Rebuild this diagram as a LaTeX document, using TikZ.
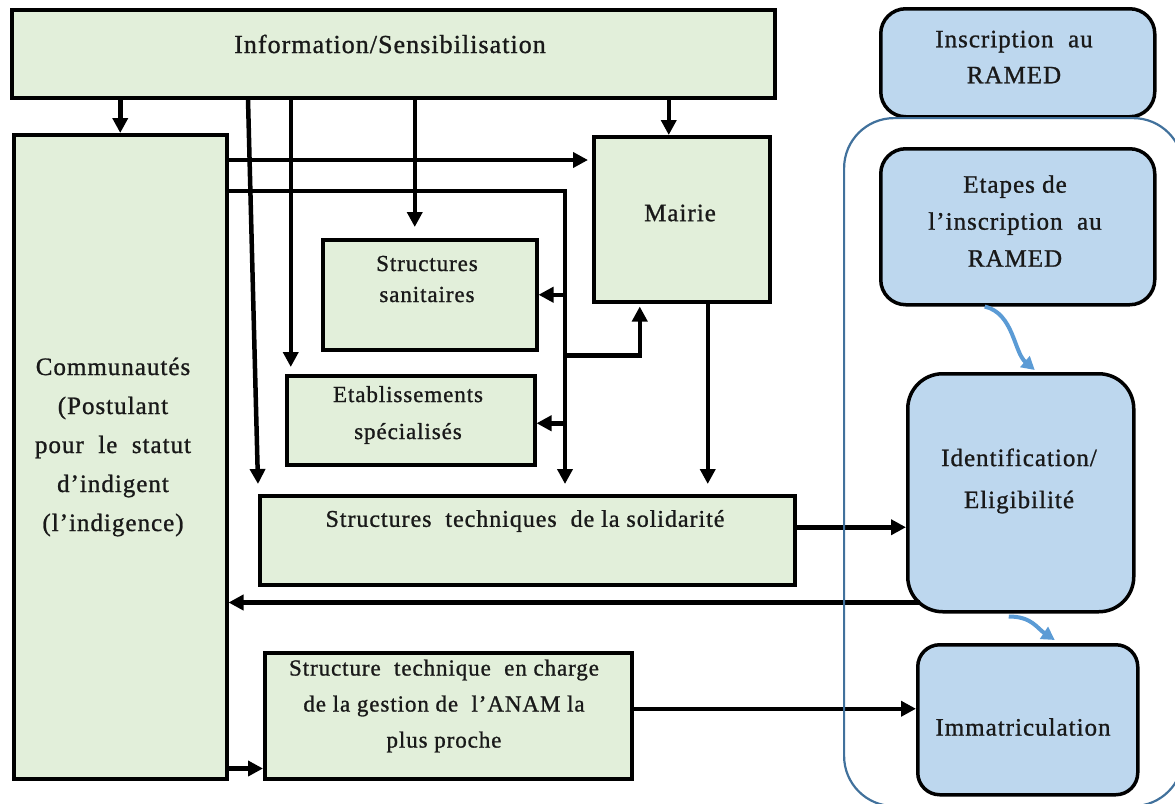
\documentclass[tikz,border=0pt]{standalone}
\usepackage{fontspec}
\setmainfont{Liberation Serif}[LetterSpace=4,FakeBold=1]
\usetikzlibrary{arrows.meta,calc}
\definecolor{boxgreen}{HTML}{E2EFDA}
\definecolor{boxblue}{HTML}{BDD7EE}
\definecolor{frameblue}{HTML}{41719C}
\definecolor{flowblue}{HTML}{5B9BD5}
\begin{document}
\begin{tikzpicture}[x=1pt,y=-1pt,
  gbox/.style={draw=black, line width=3.5pt, fill=boxgreen, anchor=north west, inner sep=0pt},
  bbox/.style={draw=black, line width=3.5pt, fill=boxblue, rounded corners=25pt, anchor=north west, inner sep=0pt},
  lbl/.style={inner sep=0pt, align=center, text=black!90, font=\fontsize{25}{37}\selectfont},
  arr/.style={line width=4.5pt, -{Triangle[length=15pt,width=15pt]}},
  flow/.style={draw=flowblue, line width=4pt, -{Triangle[length=13pt,width=14pt]}},
  frame/.style={draw=frameblue, line width=2.2pt, rounded corners=50pt, anchor=north west, inner sep=0pt}
]
\useasboundingbox (0,0) rectangle (1175,803);

% actors (green boxes)
\node[gbox, minimum width=763, minimum height=88]  (info)   at (10,8)    {};
\node[gbox, minimum width=213, minimum height=644] (comm)   at (12,133)  {};
\node[gbox, minimum width=176, minimum height=165] (mairie) at (592,135) {};
\node[gbox, minimum width=214, minimum height=110] (san)    at (321,238) {};
\node[gbox, minimum width=248, minimum height=89]  (etab)   at (285,374) {};
\node[gbox, minimum width=535, minimum height=89]  (sol)    at (258,494) {};
\node[gbox, minimum width=367, minimum height=126] (fanam)  at (263,651) {};

% their texts
\node[lbl, font=\fontsize{26}{37}\selectfont] (t-info) at (390,44) {Information/Sensibilisation};
\node[lbl, font=\fontsize{25}{39}\selectfont] (t-comm) at (113,447)
  {Communautés\\(Postulant\\pour~~le~~statut\\d'indigent\\(l'indigence)};
\node[lbl] (t-mairie) at (680,213) {Mairie};
\node[lbl, font=\fontsize{23}{31}\selectfont] (t-san) at (427,279) {Structures\\sanitaires};
\node[lbl, font=\fontsize{23}{37}\selectfont] (t-etab) at (408,415) {Etablissements\\spécialisés};
\node[lbl, font=\fontsize{24}{36}\selectfont] (t-sol) at (525,521) {Structures~~techniques~~de la solidarité};
\node[lbl, font=\fontsize{23}{36}\selectfont] (t-fanam) at (444,706)
  {Structure~~technique~~en charge\\de la gestion de~~l'ANAM la\\plus proche};

% drops from Information/Sensibilisation
\coordinate (dropM) at ($(mairie.north)+(-13,0)$);
\coordinate (dropS) at ($(san.north)+(-15,-11)$);
\coordinate (dropE) at ($(etab.north)+(-120,-7)$);
\coordinate (dropT) at ($(sol.north west)+(0,-10)$);
\coordinate (topT)  at ($(info.south west)+(238,0)$);
\draw[arr] (info.south -| comm.north) -- (comm.north);
\draw[arr] (info.south -| dropM) -- (dropM);
\draw[arr] (info.south -| dropS) -- (dropS);
\draw[arr] (info.south -| dropE) -- (dropE);
\draw[arr] (topT) -- (dropT);

% Communautés towards the Mairie and the local structures
\coordinate (c1) at ($(comm.north east)+(0,27)$);
\draw[arr, shorten >=4pt] (c1) -- (c1 -| mairie.west);
\coordinate (c2)  at ($(comm.north east)+(0,58)$);
\coordinate (bus) at ($(sol.north west)+(307,-10)$);
\draw[arr] (c2) -| (bus);
\draw[arr] (san.east -| bus) -- (san.east);
\draw[arr] ($(etab.east -| bus)+(0,3)$) -- ($(etab.east)+(0,3)$);
\coordinate (upM) at ($(mairie.south)+(-42,3)$);
\draw[arr] ($(bus |- san.south)+(0,4)$) -| (upM);

% Mairie to the solidarity structures
\coordinate (m2) at ($(mairie.south)+(26,0)$);
\draw[arr] (m2) -- ($(m2 |- sol.north)+(0,-10)$);

% bottom-left link
\coordinate (c3) at ($(comm.south east)+(0,-12)$);
\draw[arr] (c3) -- (c3 -| fanam.west);

% RAMED registration steps (blue)
\node[bbox, minimum width=274, minimum height=108] (insc)   at (879,7)   {};
\node[bbox, minimum width=274, minimum height=156] (etapes) at (879,147) {};
\node[bbox, rounded corners=35pt, minimum width=226, minimum height=238] (ident) at (906,372) {};
\node[bbox, rounded corners=22pt, minimum width=220, minimum height=150] (immat) at (916,643) {};

\coordinate (s1) at ($(sol.east)+(0,-13)$);
\draw[arr] (s1) -- (s1 -| ident.west);
\coordinate (i1) at ($(ident.south west)+(14,-11)$);
\draw[arr] (i1) -- (i1 -| comm.east);
\coordinate (f1) at ($(fanam.east)+(0,-7)$);
\draw[arr] (f1) -- (f1 -| immat.west);

% frame grouping the registration steps
\begin{scope}
  \clip (0,0) rectangle (1175,803);
  \node[frame, minimum width=339, minimum height=688] (steps) at (843,117) {};
\end{scope}

\node[lbl, font=\fontsize{25}{36}\selectfont] (t-insc) at (1014,57) {Inscription~~au\\RAMED};
\node[lbl, font=\fontsize{25}{37}\selectfont] (t-etapes) at (1015,221) {Etapes de\\l'inscription~~au\\RAMED};
\node[lbl, font=\fontsize{25}{42}\selectfont] (t-ident) at (1019,481) {Identification/\\Eligibilité};
\node[lbl] (t-immat) at (1023,727) {Immatriculation};

\draw[flow] ($(etapes.south)+(-33,0)$) .. controls +(29,7) and +(-21,-18) .. ($(ident.north)+(14,-2)$);
\draw[flow] ($(ident.south)+(-12,3)$) .. controls +(23,0) and +(-18,-12) .. ($(immat.north)+(27,-3)$);
\end{tikzpicture}
\end{document}
